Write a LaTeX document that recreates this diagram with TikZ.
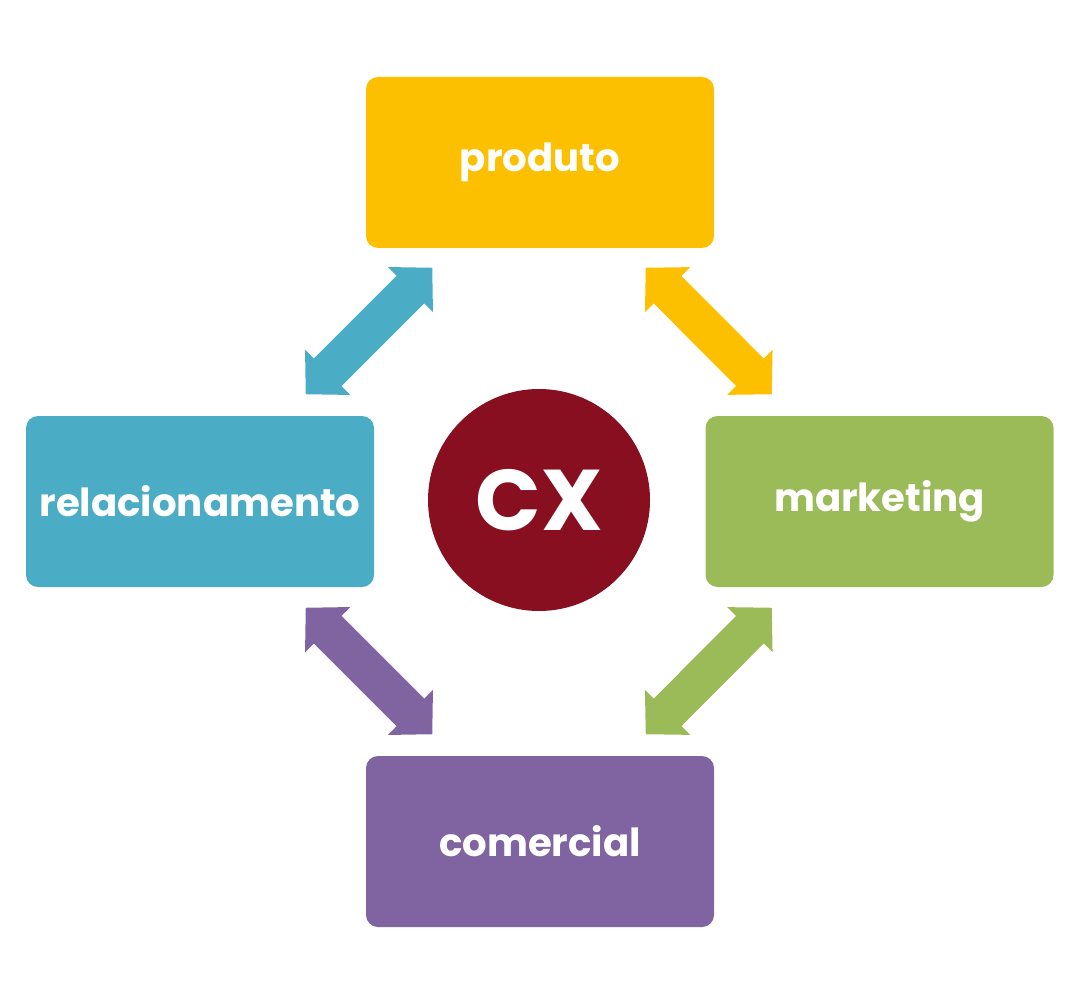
\documentclass[tikz,border=0pt]{standalone}
\usepackage{fontspec}
\setmainfont{Poppins}
\usetikzlibrary{arrows.meta,calc}
\definecolor{cyellow}{HTML}{FDC000}
\definecolor{cblue}{HTML}{4BACC6}
\definecolor{cgreen}{HTML}{9BBB59}
\definecolor{cpurple}{HTML}{8064A2}
\definecolor{cred}{HTML}{870F1F}
\tikzset{
  area/.style={rounded corners=0.12cm, minimum width=3.48cm, minimum height=1.71cm,
    inner sep=0pt, text=white, font=\bfseries\fontsize{11}{13}\selectfont},
  link/.style={line width=0.39cm,
    {Triangle[width=0.62cm,length=0.31cm]}-{Triangle[width=0.62cm,length=0.31cm]}}
}
\begin{document}
\begin{tikzpicture}
  \useasboundingbox (0,0) rectangle (10.8,10.04);
  \node[area, fill=cyellow] (prod) at (5.40,8.415) {produto};
  \node[area, fill=cblue] (rel) at (2.00,5.025) {relacionamento};
  \node[area, fill=cgreen] (mkt) at (8.795,5.025) {marketing};
  \node[area, fill=cpurple] (com) at (5.40,1.625) {comercial};
  \node[circle, fill=cred, minimum size=2.22cm, text=white,
    font=\bfseries\fontsize{24.5}{28}\selectfont] (cx) at (5.39,5.04) {CX};
  % arrow ends
  \coordinate (b1) at ($(rel.north east)+(-0.69,0.21)$);
  \coordinate (b2) at ($(prod.south west)+(0.67,-0.19)$);
  \coordinate (y1) at ($(prod.south east)+(-0.69,-0.19)$);
  \coordinate (y2) at ($(mkt.north west)+(0.67,0.21)$);
  \coordinate (p1) at ($(rel.south east)+(-0.69,-0.20)$);
  \coordinate (p2) at ($(com.north west)+(0.67,0.21)$);
  \coordinate (g1) at ($(mkt.south west)+(0.67,-0.20)$);
  \coordinate (g2) at ($(com.north east)+(-0.69,0.21)$);
  \foreach \a/\b/\c in {b1/b2/cblue, y1/y2/cyellow, p1/p2/cpurple, g1/g2/cgreen}
    \draw[link, \c] (\a) -- (\b);
\end{tikzpicture}
\end{document}
